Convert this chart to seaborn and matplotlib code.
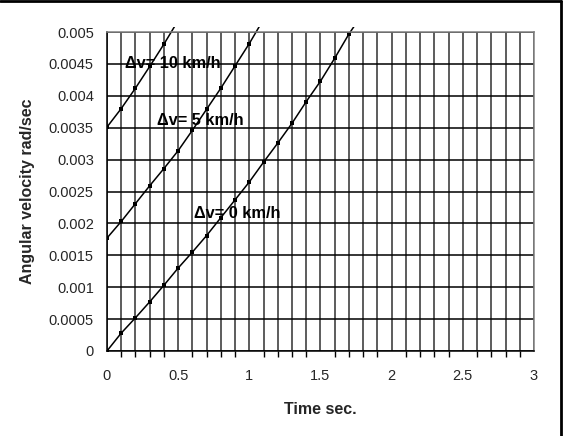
import pandas as pd
import seaborn as sns
import matplotlib.pyplot as plt
from matplotlib.patches import Rectangle
from matplotlib.lines import Line2D
import numpy as np

# time steps (s)
t_dv0 = [0.0, 0.1, 0.2, 0.3, 0.4, 0.5, 0.6, 0.7, 0.8, 0.9, 1.0, 1.1, 1.2, 1.3, 1.4, 1.5, 1.6, 1.7, 1.8]
w_dv0 = [0.0, 0.00028, 0.00052, 0.00077, 0.00103, 0.0013, 0.00155, 0.00181, 0.00209, 0.00237, 0.00265,
         0.00296, 0.00326, 0.00357, 0.00391, 0.00423, 0.00459, 0.00497, 0.0053]

t_dv5 = [0.0, 0.1, 0.2, 0.3, 0.4, 0.5, 0.6, 0.7, 0.8, 0.9, 1.0, 1.1]
w_dv5 = [0.00177, 0.00203, 0.00231, 0.00259, 0.00286, 0.00314, 0.00346, 0.00379, 0.00412, 0.00447, 0.00482, 0.0052]

t_dv10 = [0.0, 0.1, 0.2, 0.3, 0.4, 0.5]
w_dv10 = [0.00351, 0.0038, 0.00412, 0.00446, 0.00481, 0.00518]

labels = ['\u0394v= 0 km/h', '\u0394v= 5 km/h', '\u0394v= 10 km/h']
label_pos = [(0.61, 0.00216), (0.35, 0.00362), (0.125, 0.00451)]

sns.set_theme(style="white")
plt.rcParams['font.family'] = ['Liberation Sans', 'DejaVu Sans']

fig = plt.figure(figsize=(5.63, 4.36), dpi=100)
ax = fig.add_axes([0.190, 0.195, 0.7585, 0.7315])

series = [(t_dv0, w_dv0), (t_dv5, w_dv5), (t_dv10, w_dv10)]
clip = Rectangle((0, 0), 1, 1.017, transform=ax.transAxes, facecolor='none', edgecolor='none')
ax.add_patch(clip)
for (t, w), lab in zip(series, labels):
	df = pd.DataFrame({'t': t, 'w': w})
	sns.lineplot(data=df, x='t', y='w', ax=ax, color='black', linewidth=1.1,
				 marker='s', markersize=2.8, markeredgewidth=0, markerfacecolor='black')

for ln in ax.lines:
	ln.set_clip_path(clip)

for lab, (x, y) in zip(labels, label_pos):
	ax.text(x, y, lab, fontsize=11.8, fontweight='bold', va='center', ha='left', color='black')

ax.set_xlim(0, 3)
ax.set_ylim(0, 0.005)
ax.set_xticks(np.arange(0, 3.01, 0.5))
ax.set_xticks(np.arange(0, 3.01, 0.1), minor=True)
ax.set_xticklabels(['0', '0.5', '1', '1.5', '2', '2.5', '3'])
ax.set_yticks(np.arange(0, 0.00501, 0.0005))
ax.set_yticklabels(['0', '0.0005', '0.001', '0.0015', '0.002', '0.0025', '0.003', '0.0035', '0.004', '0.0045', '0.005'])

ax.grid(which='both', axis='x', color='#303030', linewidth=1.1)
ax.grid(which='major', axis='y', color='black', linewidth=1.1)
ax.set_axisbelow(True)

ax.tick_params(axis='y', which='major', direction='inout', length=7, width=1, color='black', labelsize=10.5, pad=6)
ax.tick_params(axis='x', which='both', direction='out', length=4, width=1, color='black', labelsize=10.5, pad=9)
ax.tick_params(axis='x', which='minor', bottom=True)

for s in ['left', 'bottom']:
	ax.spines[s].set_color('black')
	ax.spines[s].set_linewidth(1.1)
for s in ['top', 'right']:
	ax.spines[s].set_color('#808080')
	ax.spines[s].set_linewidth(1.1)

ax.set_xlabel('Time sec.', fontsize=11.5, fontweight='bold', labelpad=14)
ax.set_ylabel('Angular velocity rad/sec', fontsize=11.5, fontweight='bold', labelpad=10)

# chart frame (top and right edges visible)
fig.add_artist(Line2D([0, 0.9965], [0.998, 0.998], transform=fig.transFigure, color='black', linewidth=2))
fig.add_artist(Line2D([0.9965, 0.9965], [0, 0.998], transform=fig.transFigure, color='black', linewidth=2))

plt.savefig('out.png', dpi=100)
